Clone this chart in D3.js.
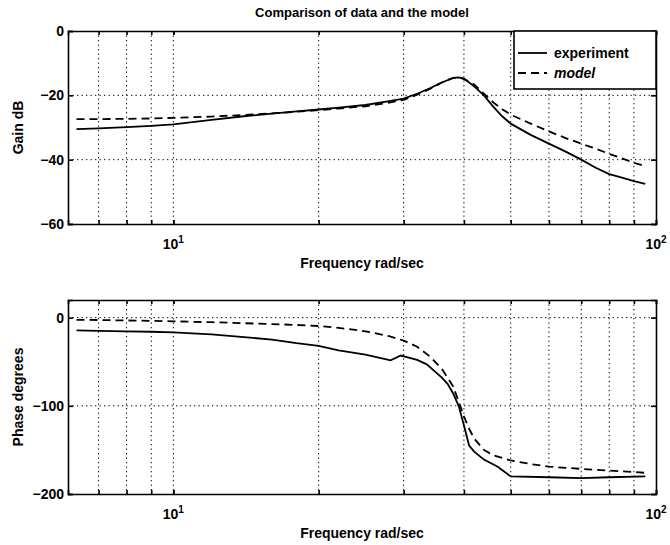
<!DOCTYPE html>
<html><head><meta charset="utf-8">
<script src="https://cdn.jsdelivr.net/npm/d3@7"></script>
<style>
body{margin:0;background:#fff;}
text{font-family:"Liberation Sans",Arial,sans-serif;font-weight:bold;fill:#000;}
</style></head>
<body><svg id="c" width="670" height="545"></svg>
<script>
const title = "Comparison of data and the model";
const xLabel = "Frequency rad/sec";
const gainLabel = "Gain dB";
const phaseLabel = "Phase degrees";
const seriesNames = ["experiment", "model"];
const gainTicks = [0, -20, -40, -60];
const phaseTicks = [0, -100, -200];
const gridFreqs = [7, 8, 9, 10, 20, 30, 40, 50, 60, 70, 80, 90];
const decadeTicks = [10, 100];

const expFreq = [6.3,7,8,9,10,12,14,16,18,20,22,25,28,30,32,34,36,38,39,40,42,44,46,48,50,55,60,65,70,75,80,85,90,95];
const expGain = [-30.5,-30.3,-29.9,-29.5,-29.0,-27.6,-26.5,-25.7,-25.0,-24.4,-23.8,-23.0,-21.8,-21.0,-19.5,-17.8,-16.0,-14.6,-14.4,-14.8,-17.2,-20.0,-23.5,-26.5,-28.8,-32.3,-35.0,-37.5,-40.0,-42.5,-44.5,-45.6,-46.7,-47.5];
const modFreq = [6.3,7,8,9,10,12,14,16,18,20,22,25,28,30,32,34,36,38,39,40,42,44,46,48,50,55,60,65,70,75,80,85,90,95];
const modGain = [-27.4,-27.4,-27.3,-27.2,-27.0,-26.6,-26.1,-25.6,-25.1,-24.6,-24.1,-23.4,-22.3,-21.4,-19.8,-18.0,-16.0,-14.6,-14.5,-14.9,-16.6,-19.5,-22.2,-24.3,-26.0,-28.8,-31.2,-33.3,-35.0,-36.6,-38.2,-39.6,-41.0,-42.0];

const expPhFreq = [6.3,7,8,9,10,12,14,16,18,20,22,25,28.2,29.6,32,33.5,35,36,37,38,39,40,41,42,44,47,50,60,70,80,95];
const expPhase = [-14.5,-15,-15.5,-16,-16.7,-19,-22,-25,-29,-32,-37,-42,-48.5,-43,-48,-53,-62,-68,-75,-86,-100,-122,-145,-152,-161,-169,-180,-181,-182,-181,-180];
const modPhFreq = [6.3,7,8,9,10,12,14,16,18,20,22,25,28,30,32,34,36,38,39,40,41,42,44,46,50,55,60,70,80,90,95];
const modPhase = [-2.5,-2.7,-3.2,-3.7,-4.2,-5.2,-6.3,-7.3,-8.3,-9.5,-11.5,-15.5,-21,-26,-33,-44,-58,-78,-95,-112,-126,-137,-150,-156,-162,-166,-169,-171.5,-173.5,-175,-176];

const svg = d3.select("#c");
const X0 = 68, X1 = 656;
const x = d3.scaleLog().domain([6.05, 100]).range([X0, X1]);

function panel(top, bottom, yDomain, yTicks, ylab, series, legend) {
  const y = d3.scaleLinear().domain(yDomain).range([bottom, top]);
  const g = svg.append("g");
  // grid
  gridFreqs.forEach(f => {
    g.append("line").attr("x1", x(f)).attr("x2", x(f)).attr("y1", top).attr("y2", bottom)
      .attr("stroke", "#000").attr("stroke-width", 1).attr("stroke-dasharray", "1.3,3.2");
  });
  yTicks.forEach(t => {
    if (t > yDomain[0] && t < yDomain[1])
      g.append("line").attr("x1", X0).attr("x2", X1).attr("y1", y(t)).attr("y2", y(t))
        .attr("stroke", "#000").attr("stroke-width", 1).attr("stroke-dasharray", "1.3,3.2");
  });
  // axes with inward ticks
  const minor = gridFreqs.concat(decadeTicks);
  const axB = d3.axisBottom(x).tickValues(minor).tickSize(-4).tickFormat("");
  const axT = d3.axisTop(x).tickValues(minor).tickSize(-4).tickFormat("");
  const axL = d3.axisLeft(y).tickValues(yTicks).tickSize(-5).tickPadding(4).tickFormat(d3.format("d"));
  const axR = d3.axisRight(y).tickValues(yTicks).tickSize(-5).tickFormat("");
  [[axB, `translate(0,${bottom})`], [axT, `translate(0,${top})`], [axR, `translate(${X1},0)`]].forEach(([a, tr]) => {
    const ga = g.append("g").attr("transform", tr).call(a);
    ga.selectAll("path,line").attr("stroke", "#000").attr("stroke-width", 1.6);
  });
  const gl = g.append("g").attr("transform", `translate(${X0},0)`).call(axL);
  gl.selectAll("path,line").attr("stroke", "#000").attr("stroke-width", 1.6);
  gl.selectAll("text").attr("font-size", 14).attr("font-family", "Liberation Sans").attr("font-weight", "bold")
    .text(d => d < 0 ? "\u2212" + Math.abs(d) : d);
  // decade labels
  decadeTicks.forEach(d => {
    const t = g.append("text").attr("x", x(d)).attr("y", bottom + 25).attr("text-anchor", "middle").attr("font-size", 14);
    t.append("tspan").text("10");
    t.append("tspan").attr("dy", -6).attr("font-size", 10).text(Math.round(Math.log10(d)));
  });
  g.append("text").attr("x", 362).attr("y", bottom + 44).attr("text-anchor", "middle").attr("font-size", 14).text(xLabel);
  g.append("text").attr("transform", `translate(23,${(top + bottom) / 2}) rotate(-90)`).attr("text-anchor", "middle")
    .attr("font-size", 14).text(ylab);
  // lines
  const line = d3.line().x(d => x(d[0])).y(d => y(d[1]));
  series.forEach((s, i) => {
    g.append("path").datum(d3.zip(s.f, s.v)).attr("d", line).attr("fill", "none")
      .attr("stroke", "#000").attr("stroke-width", 1.8)
      .attr("stroke-dasharray", i === 1 ? "8,5" : null);
  });
  if (legend) {
    const lx = 514, ly = top;
    g.append("rect").attr("x", lx).attr("y", ly).attr("width", X1 - lx).attr("height", 58)
      .attr("fill", "#fff").attr("stroke", "#000").attr("stroke-width", 1.6);
    seriesNames.forEach((n, i) => {
      const yy = ly + 22 + i * 20;
      g.append("line").attr("x1", lx + 4).attr("x2", lx + 33).attr("y1", yy).attr("y2", yy)
        .attr("stroke", "#000").attr("stroke-width", 1.8).attr("stroke-dasharray", i === 1 ? "8,5" : null);
      g.append("text").attr("x", lx + 40).attr("y", yy + 5).attr("font-size", 14)
        .attr("font-style", i === 1 ? "italic" : null).text(n);
    });
  }
}

svg.append("text").attr("x", 362).attr("y", 17).attr("text-anchor", "middle").attr("font-size", 13).text(title);

panel(31, 224, [-60, 0], gainTicks, gainLabel,
  [{f: expFreq, v: expGain}, {f: modFreq, v: modGain}], true);
panel(300, 494, [-200, 20], phaseTicks, phaseLabel,
  [{f: expPhFreq, v: expPhase}, {f: modPhFreq, v: modPhase}], false);
</script></body></html>
